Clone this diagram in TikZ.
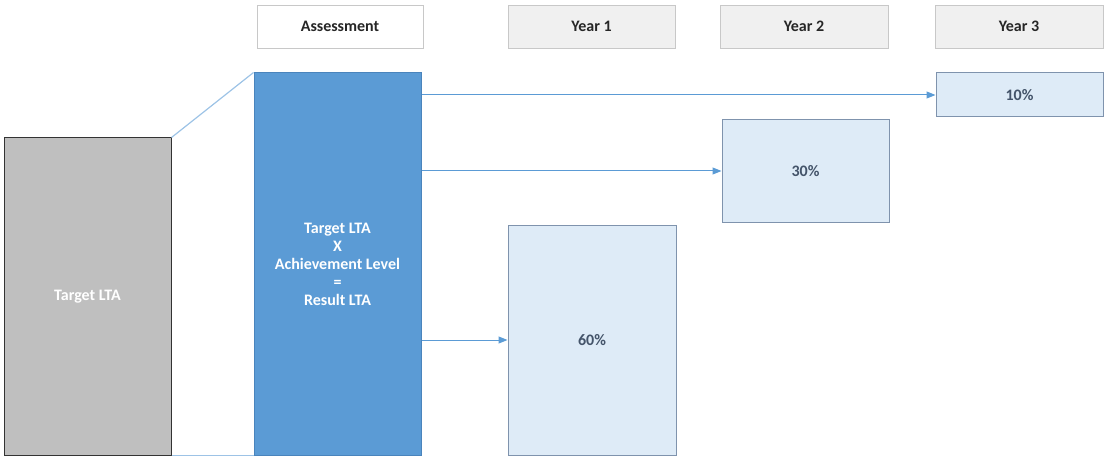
\documentclass[tikz,border=0pt]{standalone}
\usepackage{fontspec}
\setmainfont{Carlito}
\usetikzlibrary{arrows.meta}
\definecolor{hdrborder}{HTML}{C8C8C8}
\definecolor{hdrfill}{HTML}{F0F0F0}
\definecolor{lbfill}{HTML}{DEEBF7}
\definecolor{lbborder}{HTML}{7F93AD}
\definecolor{lbtext}{HTML}{44546A}
\definecolor{bluefill}{HTML}{5B9BD5}
\definecolor{blueborder}{HTML}{4A84BC}
\definecolor{grayfill}{HTML}{BFBFBF}
\definecolor{arrowc}{HTML}{5B9BD5}
\definecolor{trapc}{HTML}{9DC3E6}
\tikzset{
  base/.style={inner sep=0pt, font=\fontsize{16}{18}\selectfont\bfseries, align=center},
  hdr/.style={base, draw=hdrborder, line width=0.8pt, text=black!85},
  pct/.style={base, draw=lbborder, fill=lbfill, line width=1pt, text=lbtext},
  conn/.style={draw=arrowc, line width=1pt, -{Triangle[length=9pt,width=7pt]}},
  trap/.style={draw=trapc, line width=1.2pt}
}
\begin{document}
\begin{tikzpicture}[x=1pt,y=-1pt]
\useasboundingbox (0,0) rectangle (1105,457);
% headers
\node[hdr, fill=white, minimum width=166pt, minimum height=43pt] (hA) at (340,26.5) {Assessment};
\node[hdr, fill=hdrfill, minimum width=167pt, minimum height=43pt] (h1) at (591.5,26.5) {Year 1};
\node[hdr, fill=hdrfill, minimum width=168pt, minimum height=43pt] (h2) at (804,26.5) {Year 2};
\node[hdr, fill=hdrfill, minimum width=168pt, minimum height=43pt] (h3) at (1019,26.5) {Year 3};
% gray box
\node[base, draw=black!80, fill=grayfill, line width=1pt, text=white, minimum width=167pt, minimum height=317pt] (gray) at (87.5,296.5) {Target LTA};
% blue box
\node[base, draw=blueborder, fill=bluefill, line width=1pt, text=white, minimum width=167pt, minimum height=382pt] (blue) at (337.5,264) {Target LTA\\X\\Achievement Level\\=\\Result LTA};
% trapezoid lines
\draw[trap] (gray.north east) -- (blue.north west);
\draw[trap] (gray.south east) -- (blue.south west);
% percentage boxes
\node[pct, minimum width=167pt, minimum height=44pt] (p10) at (1019.5,95) {10\%};
\node[pct, minimum width=167pt, minimum height=102pt] (p30) at (805.5,171) {30\%};
\node[pct, minimum width=168pt, minimum height=230pt] (p60) at (592,340) {60\%};
% arrows
\draw[conn] (blue.east |- p10.west) -- (p10.west);
\draw[conn] (blue.east |- p30.west) -- (p30.west);
\draw[conn] (blue.east |- p60.west) -- (p60.west);
\end{tikzpicture}
\end{document}
